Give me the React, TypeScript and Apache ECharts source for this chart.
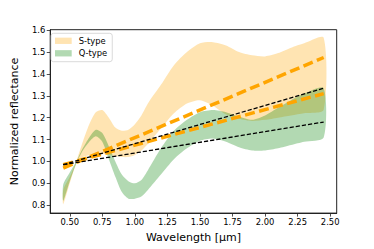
import React, { useEffect, useRef } from "react";
import * as echarts from "echarts";

const wavelengths = [0.45, 0.5, 0.55, 0.6, 0.65, 0.7, 0.75, 0.8, 0.85, 0.9, 0.95, 1.0, 1.05, 1.1, 1.2, 1.3, 1.4, 1.5, 1.6, 1.7, 1.8, 1.9, 2.0, 2.1, 2.2, 2.3, 2.45];
const sUpper = [0.87, 0.93, 1.0, 1.09, 1.17, 1.225, 1.235, 1.2, 1.155, 1.14, 1.145, 1.17, 1.21, 1.265, 1.35, 1.44, 1.5, 1.54, 1.545, 1.53, 1.5, 1.485, 1.48, 1.495, 1.52, 1.54, 1.565];
const sLower = [0.805, 0.9, 0.99, 1.02, 1.03, 1.035, 1.035, 1.03, 1.025, 1.02, 1.02, 1.03, 1.05, 1.08, 1.15, 1.22, 1.265, 1.28, 1.255, 1.215, 1.195, 1.185, 1.19, 1.2, 1.21, 1.22, 1.236];
const qUpper = [0.895, 0.95, 1.0, 1.06, 1.11, 1.145, 1.13, 1.07, 1.0, 0.94, 0.91, 0.9, 0.915, 0.96, 1.06, 1.14, 1.19, 1.225, 1.235, 1.225, 1.205, 1.19, 1.21, 1.245, 1.28, 1.31, 1.335];
const qLower = [0.82, 0.91, 0.99, 1.05, 1.09, 1.115, 1.09, 1.01, 0.93, 0.86, 0.83, 0.83, 0.84, 0.87, 0.94, 1.01, 1.06, 1.095, 1.105, 1.09, 1.065, 1.05, 1.05, 1.06, 1.075, 1.09, 1.11];

const lineEnds = [0.45, 2.45];
const orangeS = [0.97, 1.475];
const orangeQ = [0.985, 1.31];
const blackS = [0.985, 1.335];
const blackQ = [0.985, 1.18];

const xTicks = [0.5, 0.75, 1.0, 1.25, 1.5, 1.75, 2.0, 2.25, 2.5];
const yTicks = [0.8, 0.9, 1.0, 1.1, 1.2, 1.3, 1.4, 1.5, 1.6];

const FONT = "DejaVu Sans";
const S_FILL = "rgba(255,165,0,0.3)";
const Q_FILL = "rgba(0,128,0,0.3)";

function pairs(xs: number[], ys: number[]) {
  return xs.map((x, i) => [x, ys[i]]);
}

export default function App() {
  const ref = useRef<HTMLDivElement>(null);
  useEffect(() => {
    if (!ref.current) return;
    const chart = echarts.init(ref.current, undefined, { renderer: "svg" });
    const band = (name: string, up: number[], lo: number[], color: string, z: number) => ({
      name,
      type: "custom",
      coordinateSystem: "cartesian2d",
      data: wavelengths.map((x, i) => [x, up[i], lo[i]]),
      encode: { x: 0, y: [1, 2] },
      itemStyle: { color },
      silent: true,
      z,
      renderItem: (params: any, api: any) => {
        if (params.dataIndex !== 0) return null;
        const top = wavelengths.map((x, i) => api.coord([x, up[i]]));
        const bot = wavelengths.map((x, i) => api.coord([x, lo[i]])).reverse();
        return {
          type: "polygon",
          shape: { points: top.concat(bot), smooth: 0.25 },
          style: { fill: color, stroke: "none" },
        };
      },
    });
    const dashed = (name: string, ys: number[], color: string, width: number, dash: number[], z: number) => ({
      name,
      type: "line",
      data: pairs(lineEnds, ys),
      symbol: "none",
      lineStyle: { color, width, type: dash, cap: "butt" },
      silent: true,
      z,
    });
    chart.setOption({
      animation: false,
      grid: {
        left: 46.7,
        right: 37.3,
        top: 29.7,
        bottom: 31.7,
        show: true,
        borderColor: "#222",
        borderWidth: 1,
        backgroundColor: "transparent",
      },
      xAxis: {
        type: "value",
        min: 0.35,
        max: 2.55,
        name: "Wavelength [µm]",
        nameLocation: "middle",
        nameGap: 17,
        nameTextStyle: { fontFamily: FONT, fontSize: 11, color: "#000", lineHeight: 13 },
        axisLine: { show: true, onZero: false, lineStyle: { color: "#222", width: 1 } },
        axisTick: { show: true, customValues: xTicks, length: 3.5, lineStyle: { color: "#222", width: 0.8 } },
        axisLabel: {
          customValues: xTicks,
          formatter: (v: number) => v.toFixed(2),
          fontFamily: FONT,
          fontSize: 8.4,
          color: "#000",
          margin: 5,
        },
        splitLine: { show: false },
      },
      yAxis: {
        type: "value",
        min: 0.764,
        max: 1.602,
        name: "Normalized reflectance",
        nameLocation: "middle",
        nameGap: 24,
        nameTextStyle: { fontFamily: FONT, fontSize: 11, color: "#000", lineHeight: 13 },
        axisLine: { show: true, onZero: false, lineStyle: { color: "#222", width: 1 } },
        axisTick: { show: true, customValues: yTicks, length: 3.5, lineStyle: { color: "#222", width: 0.8 } },
        axisLabel: {
          customValues: yTicks,
          formatter: (v: number) => v.toFixed(1),
          fontFamily: FONT,
          fontSize: 8.4,
          color: "#000",
          margin: 5,
        },
        splitLine: { show: false },
      },
      legend: {
        left: 51,
        top: 33.3,
        orient: "vertical",
        data: [
          { name: "S-type", icon: "rect", itemStyle: { color: S_FILL } },
          { name: "Q-type", icon: "rect", itemStyle: { color: Q_FILL } },
        ],
        itemWidth: 16.7,
        itemHeight: 6.3,
        itemGap: 2.5,
        padding: [2.5, 5, 3.4, 4],
        backgroundColor: "rgba(255,255,255,0.8)",
        borderColor: "#d0d0d0",
        borderWidth: 0.8,
        borderRadius: 2.5,
        selectedMode: false,
        textStyle: { fontFamily: FONT, fontSize: 8.4, color: "#000", lineHeight: 10, padding: [0, 0, 0, 2] },
      },
      series: [
        band("S-type", sUpper, sLower, S_FILL, 1),
        band("Q-type", qUpper, qLower, Q_FILL, 2),
        dashed("S-fit", orangeS, "#FFA500", 3.5, [10, 4.5], 3),
        dashed("Q-fit", orangeQ, "#FFA500", 3.5, [10, 4.5], 3),
        dashed("S-ref", blackS, "#000", 1.3, [4.2, 2], 4),
        dashed("Q-ref", blackQ, "#000", 1.3, [4.2, 2], 4),
      ],
    });
    return () => chart.dispose();
  }, []);
  return <div ref={ref} style={{ position: "absolute", left: 0, top: 0, width: 374, height: 249 }} />;
}
